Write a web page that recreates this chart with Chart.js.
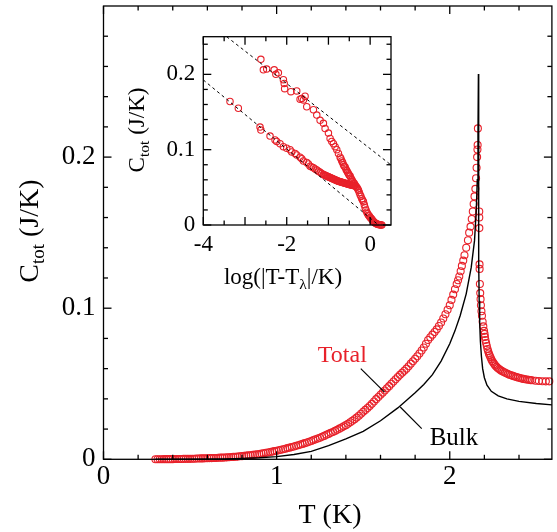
<!DOCTYPE html>
<html><head><meta charset="utf-8">
<script src="https://cdn.jsdelivr.net/npm/chart.js@4/dist/chart.umd.min.js"></script>
<style>
html,body{margin:0;padding:0;background:#fff;overflow:hidden;}
#wrap{position:relative;width:557px;height:532px;}
#main{position:absolute;left:0;top:0;}
#inset{position:absolute;left:110px;top:20px;}
</style></head><body>
<div id="wrap"><canvas id="main" width="557" height="532"></canvas><canvas id="inset" width="292" height="275"></canvas></div>
<script>
const FONT='"Liberation Serif","Times New Roman",serif';
const RED='#e8212a';

// ---------- main panel data ----------
// Total, T < T_lambda
const totalBelowT=[0.3000,0.3125,0.3250,0.3375,0.3500,0.3625,0.3750,0.3875,0.4000,0.4125,0.4250,0.4375,0.4500,0.4625,0.4750,0.4875,0.5000,0.5125,0.5250,0.5375,0.5500,0.5625,0.5750,0.5875,0.6000,0.6125,0.6250,0.6375,0.6500,0.6625,0.6750,0.6875,0.7000,0.7125,0.7250,0.7375,0.7500,0.7625,0.7750,0.7875,0.8000,0.8125,0.8250,0.8375,0.8500,0.8625,0.8750,0.8875,0.9000,0.9125,0.9250,0.9375,0.9500,0.9625,0.9750,0.9875,1.0000,1.0125,1.0250,1.0375,1.0500,1.0625,1.0750,1.0875,1.1000,1.1125,1.1250,1.1375,1.1500,1.1625,1.1750,1.1875,1.2000,1.2125,1.2250,1.2375,1.2500,1.2625,1.2750,1.2875,1.3000,1.3125,1.3250,1.3375,1.3500,1.3625,1.3750,1.3875,1.4000,1.4125,1.4250,1.4375,1.4500,1.4625,1.4750,1.4875,1.5000,1.5125,1.5250,1.5375,1.5500,1.5625,1.5750,1.5875,1.6000,1.6125,1.6250,1.6375,1.6500,1.6625,1.6750,1.6875,1.7000,1.7125,1.7250,1.7375,1.7500,1.7625,1.7750,1.7875,1.8000,1.8125,1.8250,1.8375,1.8500,1.8625,1.8750,1.8875,1.9000,1.9125,1.9250,1.9375,1.9500,1.9625,1.9750,1.9875,2.0000,2.010,2.020,2.030,2.040,2.048,2.055,2.063,2.070,2.078,2.085,2.095,2.105,2.112,2.120,2.127,2.133,2.138,2.143,2.148,2.152,2.155,2.158,2.160,2.161,2.1625];
const totalBelowC=[0.0000,0.0000,0.0000,0.0000,0.0001,0.0001,0.0001,0.0001,0.0001,0.0002,0.0002,0.0002,0.0002,0.0003,0.0003,0.0003,0.0003,0.0004,0.0004,0.0005,0.0005,0.0006,0.0006,0.0007,0.0007,0.0008,0.0008,0.0009,0.0009,0.0010,0.0011,0.0011,0.0012,0.0013,0.0014,0.0015,0.0016,0.0017,0.0018,0.0020,0.0021,0.0023,0.0024,0.0026,0.0027,0.0029,0.0031,0.0033,0.0035,0.0038,0.0040,0.0043,0.0045,0.0048,0.0051,0.0054,0.0057,0.0060,0.0063,0.0067,0.0070,0.0074,0.0077,0.0081,0.0085,0.0089,0.0093,0.0098,0.0102,0.0107,0.0111,0.0116,0.0121,0.0127,0.0132,0.0138,0.0143,0.0149,0.0155,0.0162,0.0168,0.0175,0.0181,0.0188,0.0195,0.0203,0.0210,0.0218,0.0226,0.0235,0.0245,0.0255,0.0265,0.0276,0.0288,0.0301,0.0315,0.0327,0.0340,0.0353,0.0367,0.0383,0.0398,0.0412,0.0427,0.0441,0.0455,0.0470,0.0484,0.0500,0.0515,0.0530,0.0545,0.0559,0.0573,0.0586,0.0600,0.0616,0.0633,0.0649,0.0665,0.0682,0.0700,0.0720,0.0740,0.0765,0.0790,0.0808,0.0825,0.0842,0.0860,0.0882,0.0905,0.0932,0.0960,0.0990,0.1020,0.1055,0.1090,0.1125,0.1160,0.1185,0.1210,0.1245,0.1280,0.1315,0.1350,0.1400,0.1450,0.1500,0.1540,0.1590,0.1640,0.1690,0.1740,0.1790,0.1860,0.1930,0.2000,0.2050,0.2080,0.2190];
// Total, T > T_lambda
const totalAboveT=[2.1704,2.1706,2.1710,2.1720,2.1724,2.1740,2.1760,2.1780,2.1800,2.1830,2.1860,2.1900,2.1940,2.1980,2.2010,2.2030,2.2060,2.2100,2.2140,2.2180,2.2220,2.2260,2.2300,2.2350,2.2400,2.2450,2.2510,2.2570,2.2630,2.2700,2.2770,2.2850,2.2920,2.3000,2.3090,2.3180,2.3270,2.3360,2.3450,2.3550,2.3650,2.3750,2.3850,2.3950,2.4050,2.4150,2.4250,2.4350,2.4450,2.4550,2.4650,2.4750,2.4950,2.5150,2.5350,2.5550,2.5750];
const totalAboveC=[0.1640,0.1600,0.1530,0.1290,0.1260,0.1160,0.1100,0.1060,0.1020,0.0980,0.0950,0.0910,0.0880,0.0850,0.0830,0.0810,0.0790,0.0770,0.0750,0.0730,0.0715,0.0700,0.0688,0.0675,0.0662,0.0650,0.0640,0.0630,0.0621,0.0612,0.0604,0.0597,0.0591,0.0585,0.0579,0.0574,0.0569,0.0564,0.0560,0.0556,0.0552,0.0548,0.0544,0.0541,0.0538,0.0535,0.0532,0.0530,0.0528,0.0526,0.0524,0.0523,0.0520,0.0518,0.0517,0.0516,0.0516];
// Bulk curve
const bulkT=[0.30,0.50,0.70,0.80,0.90,1.00,1.10,1.20,1.30,1.40,1.50,1.60,1.70,1.80,1.85,1.90,1.95,2.00,2.03,2.06,2.095,2.124,2.143,2.153,2.159,2.163,2.1655,2.1665,2.1670,2.1680,2.1700,2.1730,2.1770,2.1830,2.1900,2.2000,2.2150,2.2400,2.2800,2.3300,2.4000,2.5000,2.5900];
const bulkC=[0.0000,0.0001,0.0003,0.0006,0.0010,0.0018,0.0032,0.0052,0.0090,0.0135,0.0185,0.0255,0.0340,0.0440,0.0495,0.0560,0.0650,0.0765,0.0850,0.0950,0.1095,0.1270,0.1447,0.1646,0.1850,0.2150,0.2550,0.2550,0.1700,0.1300,0.1050,0.0900,0.0780,0.0680,0.0600,0.0540,0.0490,0.0450,0.0420,0.0400,0.0383,0.0369,0.0360];

// ---------- inset data: C vs log10(|T - T_lambda|) ----------
const insetBelowLog=[-2.62,-2.56,-2.48,-2.30,-2.26,-2.20,-2.08,-2.06,-2.05,-1.90,-1.76,-1.68,-1.64,-1.60,-1.56,-1.52,-1.36,-1.28,-1.20,-1.12,-1.08,-1.00,-0.96,-0.92,-0.88,-0.84,-0.80,-0.76,-0.72,-0.70,-0.68,-0.66,-0.64,-0.62,-0.60,-0.58,-0.56,-0.54,-0.52,-0.50,-0.48,-0.46,-0.44,-0.42,-0.40,-0.38,-0.36,-0.34,-0.32,-0.30,-0.28,-0.26,-0.24,-0.22,-0.20,-0.18,-0.16,-0.14,-0.12,-0.10,-0.08,-0.06,-0.04,-0.02,0.00,0.02,0.04,0.06,0.08,0.10,0.12,0.14,0.16,0.18,0.20,0.22,0.24,0.26,0.28];
const insetBelowC=[0.220,0.206,0.207,0.206,0.200,0.202,0.193,0.188,0.181,0.177,0.178,0.167,0.168,0.166,0.171,0.157,0.153,0.146,0.139,0.135,0.128,0.122,0.115,0.111,0.108,0.104,0.100,0.095,0.090,0.088,0.085,0.083,0.080,0.078,0.077,0.074,0.072,0.070,0.068,0.066,0.065,0.062,0.060,0.058,0.056,0.055,0.053,0.051,0.050,0.048,0.046,0.043,0.040,0.038,0.035,0.033,0.031,0.027,0.023,0.020,0.017,0.015,0.013,0.012,0.010,0.009,0.0075,0.006,0.0045,0.0035,0.0026,0.0019,0.0013,0.0009,0.0006,0.0004,0.0002,0.0001,0.0000];
const insetAboveLog=[-3.36,-3.16,-2.64,-2.62,-2.40,-2.28,-2.24,-2.16,-2.08,-2.00,-1.92,-1.88,-1.80,-1.76,-1.68,-1.64,-1.60,-1.52,-1.48,-1.44,-1.40,-1.36,-1.32,-1.28,-1.24,-1.20,-1.16,-1.12,-1.10,-1.08,-1.06,-1.04,-1.02,-1.00,-0.98,-0.96,-0.94,-0.92,-0.90,-0.88,-0.86,-0.84,-0.82,-0.80,-0.78,-0.76,-0.74,-0.72,-0.70,-0.68,-0.66,-0.64,-0.62,-0.60,-0.58,-0.56,-0.54,-0.52,-0.50,-0.48,-0.46,-0.44,-0.42,-0.40,-0.38,-0.36];
const insetAboveC=[0.164,0.155,0.130,0.126,0.118,0.113,0.111,0.108,0.104,0.102,0.100,0.097,0.095,0.093,0.090,0.088,0.085,0.083,0.081,0.078,0.077,0.076,0.0745,0.073,0.0715,0.070,0.0685,0.067,0.0665,0.066,0.0655,0.065,0.0645,0.064,0.0635,0.063,0.0625,0.062,0.0615,0.061,0.0605,0.060,0.0595,0.059,0.0585,0.058,0.0577,0.0575,0.0571,0.0567,0.0563,0.056,0.0557,0.0553,0.055,0.0547,0.0544,0.0541,0.0538,0.0535,0.0532,0.053,0.0527,0.0525,0.0522,0.052];
// dashed logarithmic fits
const fitUpperLog=[-3.44,0.5], fitUpperC=[0.25,0.0797];
const fitLowerLog=[-4.0,0.2], fitLowerC=[0.1926,0.0];

// ---------- ticks ----------
const mainXMajor=[0,1,2], mainXMinor=[0.2,0.4,0.6,0.8,1.2,1.4,1.6,1.8,2.2,2.4];
const mainYMajor=[0,0.1,0.2], mainYMinor=[0.02,0.04,0.06,0.08,0.12,0.14,0.16,0.18,0.22,0.24,0.26,0.28];
const mainXLabels=['0','1','2'], mainXLabelVals=[0,1,2];
const mainYLabels=['0','0.1','0.2'], mainYLabelVals=[0,0.1,0.2];
const insXMajor=[-4,-3,-2,-1,0], insXMinor=[-3.5,-2.5,-1.5,-0.5];
const insYMajor=[0,0.1,0.2], insYMinor=[0.02,0.04,0.06,0.08,0.12,0.14,0.16,0.18,0.22,0.24];
const insXLabels=['-4','-2','0'], insXLabelVals=[-4,-2,0];
const insYLabels=['0','0.1','0.2'], insYLabelVals=[0,0.1,0.2];

const pts=(xs,ys)=>xs.map((x,i)=>({x:x,y:ys[i]}));

function rich(ctx,parts,size,x,y,rot,color){
  ctx.save();ctx.translate(x,y);if(rot)ctx.rotate(-Math.PI/2);
  ctx.textAlign='left';ctx.textBaseline='alphabetic';ctx.fillStyle=color||'#000';
  let w=0;
  parts.forEach(p=>{ctx.font=(p.sub?size*0.68:size)+'px '+FONT;p.w=ctx.measureText(p.t).width;w+=p.w;});
  let cx=-w/2;
  parts.forEach(p=>{ctx.font=(p.sub?size*0.68:size)+'px '+FONT;ctx.fillText(p.t,cx,p.sub?size*0.22:0);cx+=p.w;});
  ctx.restore();
}

function deco(o){
  return {id:'deco',afterDatasetsDraw(chart){
    const ctx=chart.ctx,a=chart.chartArea,xs=chart.scales.x,ys=chart.scales.y;
    ctx.save();
    ctx.strokeStyle='#000';ctx.lineWidth=o.lw;
    const seg=(x1,y1,x2,y2)=>{ctx.beginPath();ctx.moveTo(x1,y1);ctx.lineTo(x2,y2);ctx.stroke();};
    const tx=(v,l)=>v.forEach(t=>{const p=xs.getPixelForValue(t);seg(p,a.bottom,p,a.bottom-l);seg(p,a.top,p,a.top+l);});
    const ty=(v,l)=>v.forEach(t=>{const p=ys.getPixelForValue(t);seg(a.left,p,a.left+l,p);seg(a.right,p,a.right-l,p);});
    tx(o.xMajor,o.major);tx(o.xMinor,o.minor);ty(o.yMajor,o.major);ty(o.yMinor,o.minor);
    ctx.strokeRect(a.left,a.top,a.right-a.left,a.bottom-a.top);
    ctx.fillStyle='#000';ctx.font=o.tick+'px '+FONT;
    ctx.textAlign='center';ctx.textBaseline='middle';
    o.xLabels.forEach((s,i)=>ctx.fillText(s,xs.getPixelForValue(o.xLabelVals[i]),a.bottom+o.xGap));
    ctx.textAlign='right';
    o.yLabels.forEach((s,i)=>ctx.fillText(s,a.left-o.yGap,ys.getPixelForValue(o.yLabelVals[i])));
    rich(ctx,o.xTitle,o.title,o.xTitlePos[0],o.xTitlePos[1],false);
    rich(ctx,o.yTitle,o.title,o.yTitlePos[0],o.yTitlePos[1],true);
    if(o.extra)o.extra(ctx,xs,ys);
    ctx.restore();
  }};
}

const yTitleParts=()=>[{t:'C'},{t:'tot',sub:true},{t:' (J/K)'}];
const circ=(d,r)=>({data:d,showLine:false,pointRadius:r,pointBorderColor:RED,pointBackgroundColor:'rgba(0,0,0,0)',pointBorderWidth:1.1,clip:false});

// ---------- main chart ----------
new Chart(document.getElementById('main'),{
  type:'scatter',
  data:{datasets:[
    {data:pts(bulkT,bulkC),showLine:true,pointRadius:0,borderColor:'#000',borderWidth:1.4,tension:0,clip:false},
    circ(pts(totalBelowT,totalBelowC),3.5),
    circ(pts(totalAboveT,totalAboveC),3.5)
  ]},
  options:{responsive:false,animation:false,devicePixelRatio:1,
    layout:{padding:{left:103.5,right:0.5,top:6,bottom:72.7}},
    plugins:{legend:{display:false},tooltip:{enabled:false}},
    scales:{x:{type:'linear',min:0,max:2.59,display:false},y:{type:'linear',min:0,max:0.3,display:false}}
  },
  plugins:[deco({lw:1.3,major:8,minor:4.5,tick:27,title:28,
    xMajor:mainXMajor,xMinor:mainXMinor,yMajor:mainYMajor,yMinor:mainYMinor,
    xLabels:mainXLabels,xLabelVals:mainXLabelVals,yLabels:mainYLabels,yLabelVals:mainYLabelVals,
    xGap:18,yGap:8,
    xTitle:[{t:'T (K)'}],xTitlePos:[330,523],
    yTitle:yTitleParts(),yTitlePos:[38,231],
    extra:(ctx,xs,ys)=>{
      ctx.lineWidth=1.2;ctx.strokeStyle='#000';
      const L=(t1,c1,t2,c2)=>{ctx.beginPath();ctx.moveTo(xs.getPixelForValue(t1),ys.getPixelForValue(c1));ctx.lineTo(xs.getPixelForValue(t2),ys.getPixelForValue(c2));ctx.stroke();};
      L(1.486,0.0600,1.623,0.0445);
      L(1.714,0.0346,1.838,0.0203);
      ctx.textAlign='left';ctx.textBaseline='alphabetic';
      ctx.font='24px '+FONT;ctx.fillStyle=RED;
      ctx.fillText('Total',xs.getPixelForValue(1.238),ys.getPixelForValue(0.0643));
      ctx.font='25px '+FONT;ctx.fillStyle='#000';
      ctx.fillText('Bulk',xs.getPixelForValue(1.884),ys.getPixelForValue(0.0093));
    }
  })]
});

// ---------- inset chart ----------
new Chart(document.getElementById('inset'),{
  type:'scatter',
  data:{datasets:[
    {data:pts(fitUpperLog,fitUpperC),showLine:true,pointRadius:0,borderColor:'#000',borderWidth:1,borderDash:[3,3],clip:true},
    {data:pts(fitLowerLog,fitLowerC),showLine:true,pointRadius:0,borderColor:'#000',borderWidth:1,borderDash:[3,3],clip:true},
    circ(pts(insetBelowLog,insetBelowC),3.2),
    circ(pts(insetAboveLog,insetAboveC),3.2)
  ]},
  options:{responsive:false,animation:false,devicePixelRatio:1,
    layout:{padding:{left:93.3,right:11,top:16.7,bottom:70}},
    plugins:{legend:{display:false},tooltip:{enabled:false}},
    scales:{x:{type:'linear',min:-4,max:0.5,display:false},y:{type:'linear',min:0,max:0.25,display:false}}
  },
  plugins:[deco({lw:1.3,major:8,minor:4.5,tick:23,title:23,
    xMajor:insXMajor,xMinor:insXMinor,yMajor:insYMajor,yMinor:insYMinor,
    xLabels:insXLabels,xLabelVals:insXLabelVals,yLabels:insYLabels,yLabelVals:insYLabelVals,
    xGap:20,yGap:8,
    xTitle:[{t:'log(|T-T'},{t:'λ',sub:true},{t:'|/K)'}],xTitlePos:[173,264],
    yTitle:yTitleParts(),yTitlePos:[34,110]
  })]
});
</script>
</body></html>
